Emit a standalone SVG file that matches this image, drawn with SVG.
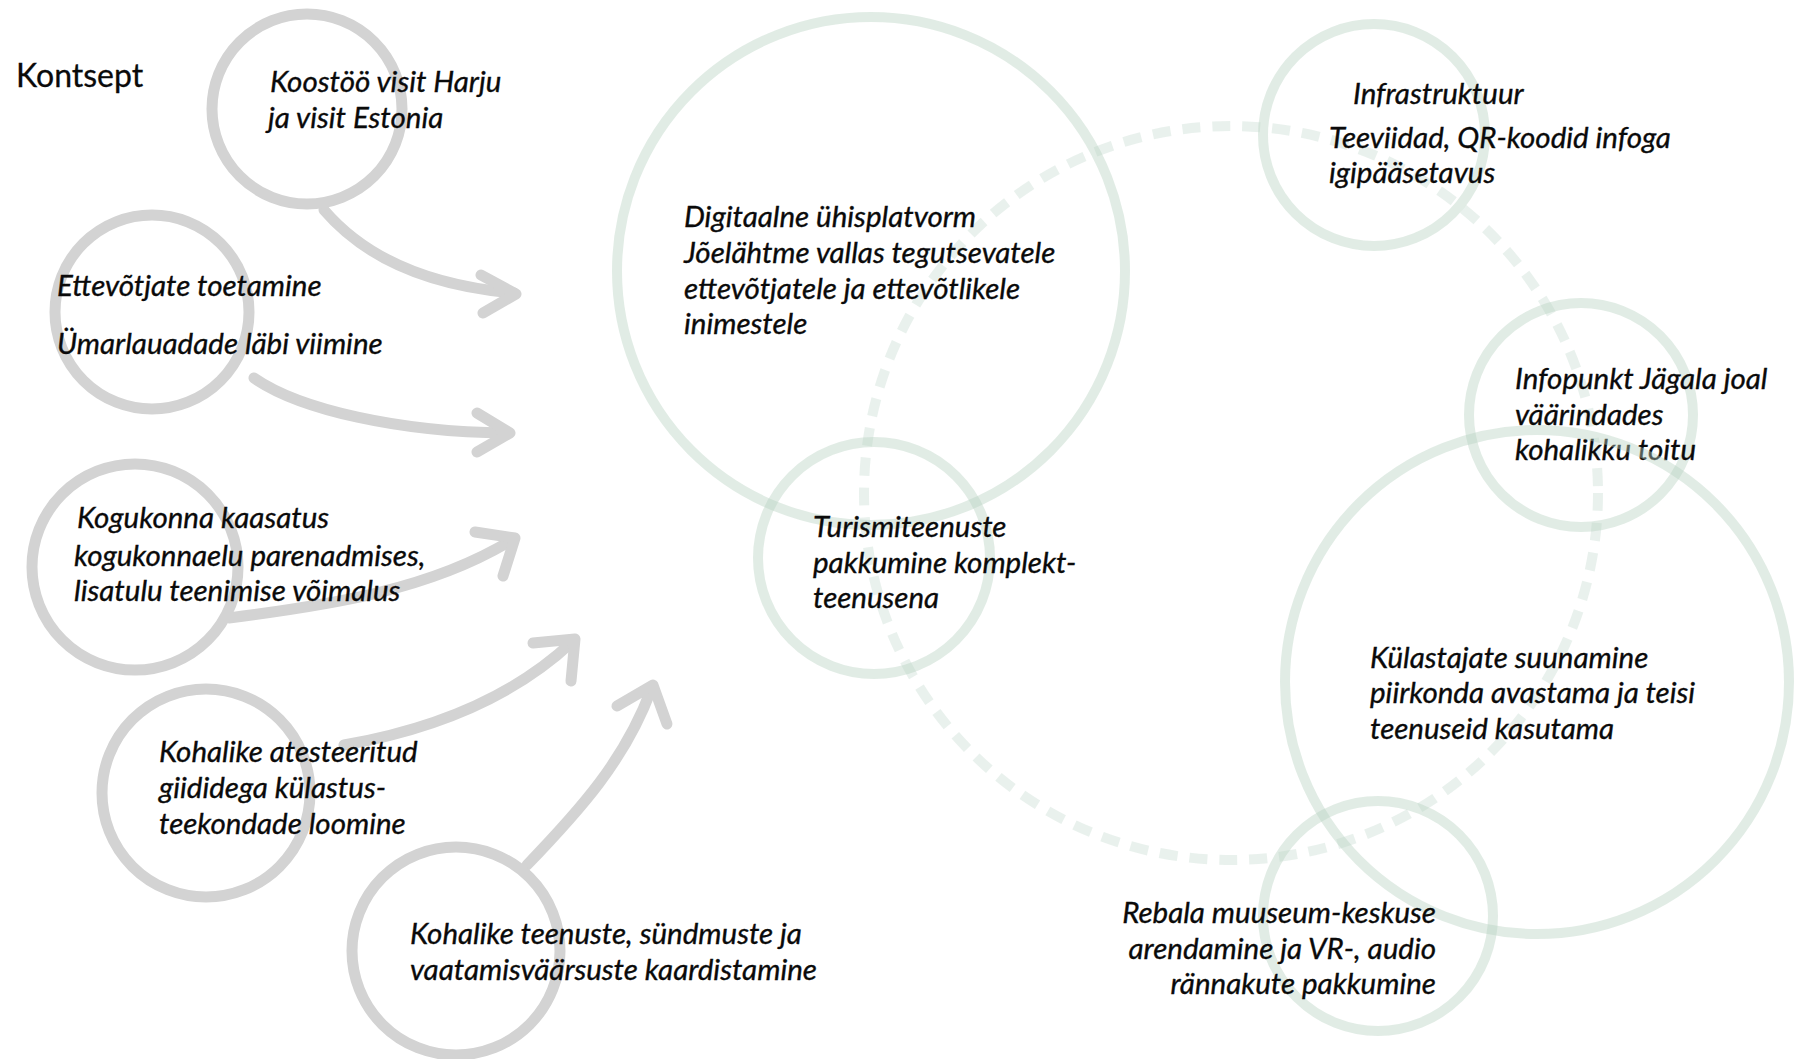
<svg xmlns="http://www.w3.org/2000/svg" width="1796" height="1059" viewBox="0 0 1796 1059">
<defs>
<style>
.bg{fill:#ffffff}
.gray{fill:none;stroke:#d3d3d3;stroke-width:11}
.green{fill:none;stroke:#b7d2c2;stroke-opacity:0.42;stroke-width:10}
.dash{fill:none;stroke:#b7d2c2;stroke-opacity:0.3;stroke-width:10;stroke-dasharray:18 12}
.arrow{fill:none;stroke:#d3d3d3;stroke-width:11;stroke-linecap:round;stroke-linejoin:round}
.t{font-family:Lato,"Liberation Sans",sans-serif;font-style:italic;font-size:29.5px;fill:#0a0a0a;stroke:#0a0a0a;stroke-width:0.35}
.title{font-family:Lato,"Liberation Sans",sans-serif;font-size:32px;fill:#0a0a0a;stroke:#0a0a0a;stroke-width:0.3}
</style>
</defs>
<rect class="bg" x="0" y="0" width="1796" height="1059"/>
<g id="dashed-ring"><circle class="dash" cx="1231" cy="493" r="367"/></g>
<g id="connectors">
<path class="arrow" d="M324,210 C360,252 420,285 514,293"/>
<polyline class="arrow" points="481,275 516,294 483,313"/>
<path class="arrow" d="M254,378 C300,410 400,432 506,433"/>
<polyline class="arrow" points="477,413 510,433 477,452"/>
<path class="arrow" d="M229,618 C330,605 430,590 512,540"/>
<polyline class="arrow" points="475,532 515,538 503,576"/>
<path class="arrow" d="M344,745 C430,730 510,700 572,642"/>
<polyline class="arrow" points="533,643 575,639 571,681"/>
<path class="arrow" d="M527,865 C580,810 625,760 651,690"/>
<polyline class="arrow" points="617,706 653,685 667,724"/>
</g>
<text class="title" x="16" y="87">Kontsept</text>
<g id="n-koostoo"><circle class="gray" cx="307" cy="109" r="95"/>
<text class="t" x="270" y="92">Koostöö visit Harju</text><text class="t" x="268" y="128">ja visit Estonia</text></g>
<g id="n-ettevotjate"><circle class="gray" cx="152" cy="312" r="97"/>
<text class="t" x="57" y="296">Ettevõtjate toetamine</text><text class="t" x="57" y="354">Ümarlauadade läbi viimine</text></g>
<g id="n-kogukonna"><circle class="gray" cx="135" cy="567" r="103"/>
<text class="t" x="77" y="528">Kogukonna kaasatus</text><text class="t" x="74" y="566">kogukonnaelu parenadmises,</text><text class="t" x="74" y="601">lisatulu teenimise võimalus</text></g>
<g id="n-giidid"><circle class="gray" cx="206" cy="793" r="104"/>
<text class="t" x="159" y="762">Kohalike atesteeritud</text><text class="t" x="159" y="798">giididega külastus-</text><text class="t" x="159" y="834">teekondade loomine</text></g>
<g id="n-kaardistamine"><circle class="gray" cx="456" cy="951" r="104"/>
<text class="t" x="410" y="944">Kohalike teenuste, sündmuste ja</text><text class="t" x="410" y="980">vaatamisväärsuste kaardistamine</text></g>
<g id="n-digitaalne"><circle class="green" cx="871" cy="271" r="254"/>
<text class="t" x="684" y="227">Digitaalne ühisplatvorm</text><text class="t" x="684" y="263">Jõelähtme vallas tegutsevatele</text><text class="t" x="684" y="299">ettevõtjatele ja ettevõtlikele</text><text class="t" x="684" y="334">inimestele</text></g>
<g id="n-turism"><circle class="green" cx="874" cy="558" r="116"/>
<text class="t" x="813" y="537">Turismiteenuste</text><text class="t" x="813" y="573">pakkumine komplekt-</text><text class="t" x="813" y="608">teenusena</text></g>
<g id="n-infra"><circle class="green" cx="1374" cy="135" r="111"/>
<text class="t" x="1353" y="104">Infrastruktuur</text><text class="t" x="1329" y="148">Teeviidad, QR-koodid infoga</text><text class="t" x="1329" y="183">igipääsetavus</text></g>
<g id="n-infopunkt"><circle class="green" cx="1581" cy="415" r="112"/>
<text class="t" x="1515" y="389">Infopunkt Jägala joal</text><text class="t" x="1515" y="425">väärindades</text><text class="t" x="1515" y="460">kohalikku toitu</text></g>
<g id="n-kulastajate"><circle class="green" cx="1537" cy="682" r="252"/>
<text class="t" x="1370" y="668">Külastajate suunamine</text><text class="t" x="1370" y="703">piirkonda avastama ja teisi</text><text class="t" x="1370" y="739">teenuseid kasutama</text></g>
<g id="n-rebala"><circle class="green" cx="1378" cy="916" r="115"/>
<text class="t" x="1436" y="923" text-anchor="end">Rebala muuseum-keskuse</text><text class="t" x="1436" y="959" text-anchor="end">arendamine ja VR-, audio</text><text class="t" x="1436" y="994" text-anchor="end">rännakute pakkumine</text></g>
</svg>
